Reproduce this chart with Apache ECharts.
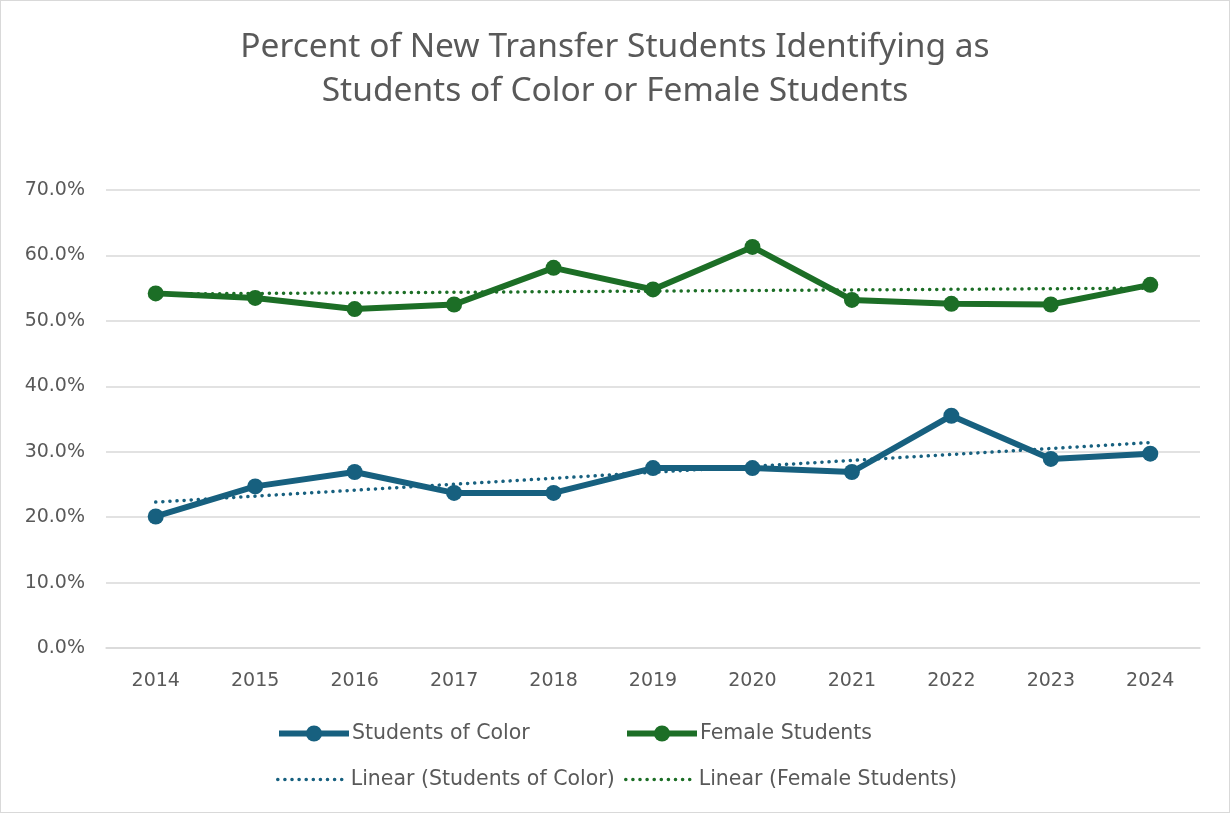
<!DOCTYPE html>
<html>
<head>
<meta charset="utf-8">
<script src="https://cdn.jsdelivr.net/npm/echarts@6/dist/echarts.min.js"></script>
<style>
  html, body { margin: 0; padding: 0; background: #fff; }
  #chart { width: 1230px; height: 813px; box-sizing: border-box; border: 1px solid #d9d9d9; }
</style>
</head>
<body>
<div id="chart"></div>
<script>
// values
const years = ['2014', '2015', '2016', '2017', '2018', '2019', '2020', '2021', '2022', '2023', '2024'];
const studentsOfColor = [20.1, 24.7, 26.9, 23.7, 23.7, 27.5, 27.5, 26.9, 35.5, 28.9, 29.7];
const femaleStudents = [54.2, 53.5, 51.8, 52.5, 58.1, 54.8, 61.3, 53.2, 52.6, 52.5, 55.5];
// linear trend lines, start and end as seen in the picture
const trendYears = ['2014', '2024'];
const trendColor = [22.3, 31.4];
const trendFemale = [54.1, 55.0];

const blue = '#17607f';
const green = '#1c6e26';
const textColor = '#595959';
const font = 'Noto Sans';
const labelFont = 'DejaVu Sans';
const dots = [0.1, 7];

const chart = echarts.init(document.getElementById('chart'));

function legendAt(name, left, top, trend) {
  return {
    data: [name],
    left: left,
    top: top,
    itemWidth: 70,
    itemHeight: 20,
    itemGap: 0,
    itemStyle: trend ? { opacity: 0 } : {},
    lineStyle: trend ? { width: 3.5, type: dots, cap: 'round' } : { width: 6 },
    textStyle: { color: textColor, fontSize: 20.5, fontFamily: labelFont, padding: [0, 0, 0, -2] }
  };
}

chart.setOption({
  animation: false,
  title: {
    text: 'Percent of New Transfer Students Identifying as\nStudents of Color or Female Students',
    left: 'center',
    top: 19,
    textStyle: { color: textColor, fontSize: 33.5, fontWeight: 'normal', fontFamily: font, lineHeight: 44 }
  },
  legend: [
    legendAt('Students of Color', 270, 717, false),
    legendAt('Female Students', 618, 717, false),
    legendAt('Linear (Students of Color)', 270, 763, true),
    legendAt('Linear (Female Students)', 618, 763, true)
  ],
  grid: { left: 105, right: 29, top: 189, bottom: 164, containLabel: false },
  xAxis: {
    type: 'category',
    data: years,
    axisLine: { lineStyle: { color: '#d9d9d9', width: 1.5 } },
    axisTick: { show: false },
    axisLabel: { color: textColor, fontSize: 19, fontFamily: labelFont, margin: 24 }
  },
  yAxis: {
    type: 'value',
    min: 0,
    max: 70,
    interval: 10,
    axisLine: { show: false },
    axisTick: { show: false },
    splitLine: { lineStyle: { color: '#d9d9d9', width: 1.5 } },
    axisLabel: {
      color: textColor, fontSize: 19, fontFamily: labelFont, margin: 21,
      formatter: v => v.toFixed(1) + '%'
    }
  },
  series: [
    {
      name: 'Linear (Students of Color)',
      type: 'line',
      data: trendYears.map((y, i) => [y, trendColor[i]]),
      showSymbol: false,
      symbol: 'none',
      lineStyle: { color: blue, width: 3.5, type: dots, cap: 'round' },
      itemStyle: { color: blue },
      z: 1
    },
    {
      name: 'Linear (Female Students)',
      type: 'line',
      data: trendYears.map((y, i) => [y, trendFemale[i]]),
      showSymbol: false,
      symbol: 'none',
      lineStyle: { color: green, width: 3.5, type: dots, cap: 'round' },
      itemStyle: { color: green },
      z: 1
    },
    {
      name: 'Students of Color',
      type: 'line',
      data: studentsOfColor,
      symbol: 'circle',
      symbolSize: 16,
      lineStyle: { color: blue, width: 6 },
      itemStyle: { color: blue },
      z: 3
    },
    {
      name: 'Female Students',
      type: 'line',
      data: femaleStudents,
      symbol: 'circle',
      symbolSize: 16,
      lineStyle: { color: green, width: 6 },
      itemStyle: { color: green },
      z: 3
    }
  ]
});
</script>
</body>
</html>
